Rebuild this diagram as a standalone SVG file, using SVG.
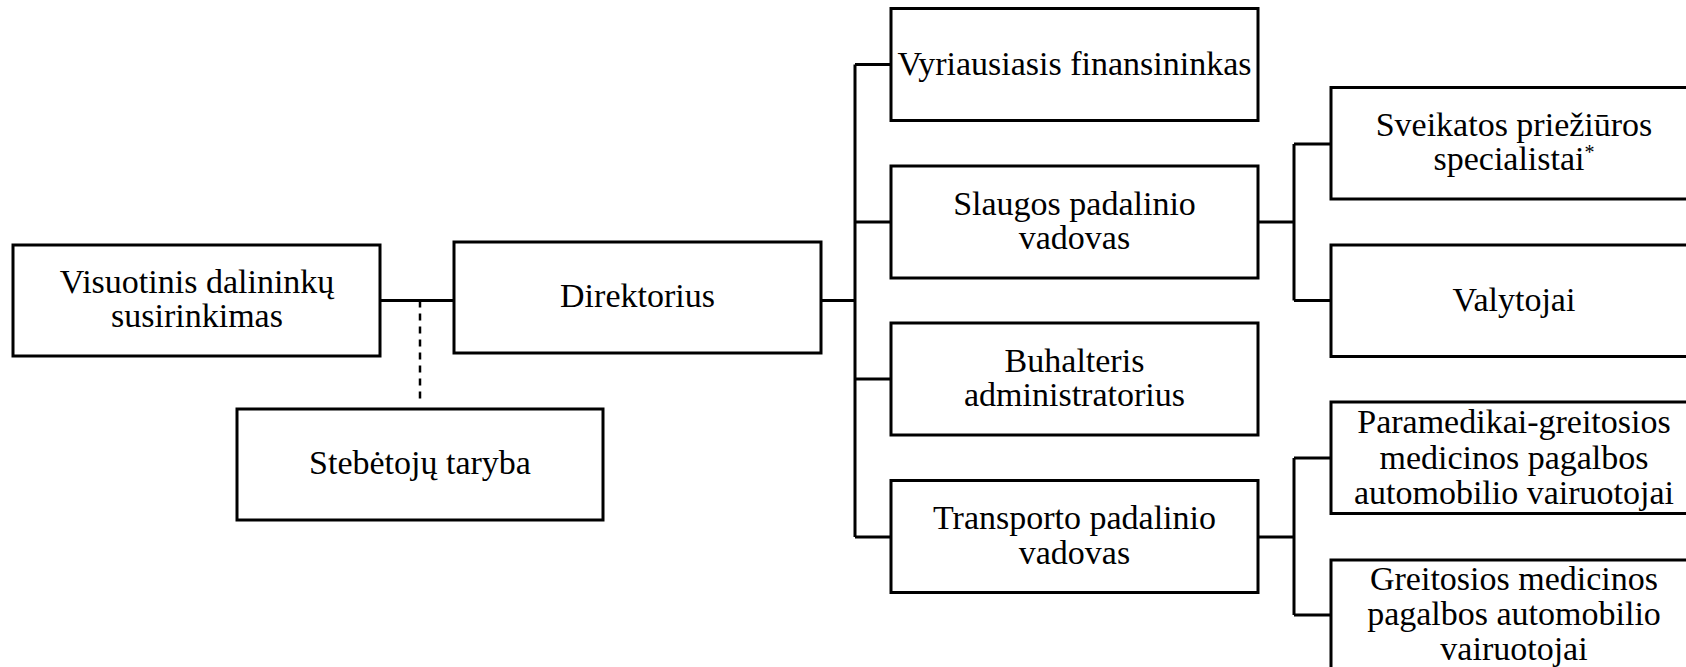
<svg xmlns="http://www.w3.org/2000/svg" width="1686" height="667" viewBox="0 0 1686 667">
<style>
.box{fill:#fff;stroke:#000;stroke-width:3}
text{font-family:'Liberation Serif',Tinos,'Times New Roman','DejaVu Serif',serif;font-size:34px;fill:#000;text-anchor:middle}
.c{fill:none;stroke:#000;stroke-width:3}
.d{fill:none;stroke:#000;stroke-width:2.5;stroke-dasharray:7 6}
</style>
<rect width="1686" height="667" fill="#fff"/>
<g id="connectors">
<path class="c" d="M380 300.5H454"/>
<path class="d" d="M420 300.5V402"/>
<path class="c" d="M821 300.5H855M855 64.5V537M855 64.5H891M855 222H891M855 379H891M855 537H891"/>
<path class="c" d="M1258 222H1294M1294 144V300.5M1294 144H1331M1294 300.5H1331"/>
<path class="c" d="M1258 537H1294M1294 458V615M1294 458H1331M1294 615H1331"/>
</g>
<g font-family="Liberation Serif, serif">
<g id="visuotinis"><rect class="box" x="13" y="245" width="367" height="111"/><text x="197" y="293">Visuotinis dalininkų</text><text x="197" y="327">susirinkimas</text></g>
<g id="direktorius"><rect class="box" x="454" y="242" width="367" height="111"/><text x="637.5" y="307">Direktorius</text></g>
<g id="stebetoju"><rect class="box" x="237" y="409" width="366" height="111"/><text x="420" y="474">Stebėtojų taryba</text></g>
<g id="vyriausiasis"><rect class="box" x="891" y="8.5" width="367" height="112"/><text x="1074.5" y="75">Vyriausiasis finansininkas</text></g>
<g id="slaugos"><rect class="box" x="891" y="166" width="367" height="112"/><text x="1074.5" y="215">Slaugos padalinio</text><text x="1074.5" y="249">vadovas</text></g>
<g id="buhalteris"><rect class="box" x="891" y="323" width="367" height="112"/><text x="1074.5" y="372">Buhalteris</text><text x="1074.5" y="406">administratorius</text></g>
<g id="transporto"><rect class="box" x="891" y="480.5" width="367" height="112"/><text x="1074.5" y="529">Transporto padalinio</text><text x="1074.5" y="564">vadovas</text></g>
<g id="sveikatos"><rect class="box" x="1331" y="87.5" width="367" height="111.5"/><text x="1514" y="136">Sveikatos priežiūros</text><text x="1514" y="170">specialistai<tspan font-size="20" dy="-11">*</tspan></text></g>
<g id="valytojai"><rect class="box" x="1331" y="245" width="367" height="111.5"/><text x="1514" y="311">Valytojai</text></g>
<g id="paramedikai"><rect class="box" x="1331" y="402" width="367" height="111.5"/><text x="1514" y="433">Paramedikai-greitosios</text><text x="1514" y="468.5">medicinos pagalbos</text><text x="1514" y="504">automobilio vairuotojai</text></g>
<g id="greitosios"><rect class="box" x="1331" y="560" width="367" height="120"/><text x="1514" y="590">Greitosios medicinos</text><text x="1514" y="625">pagalbos automobilio</text><text x="1514" y="660">vairuotojai</text></g>
</g>
</svg>
